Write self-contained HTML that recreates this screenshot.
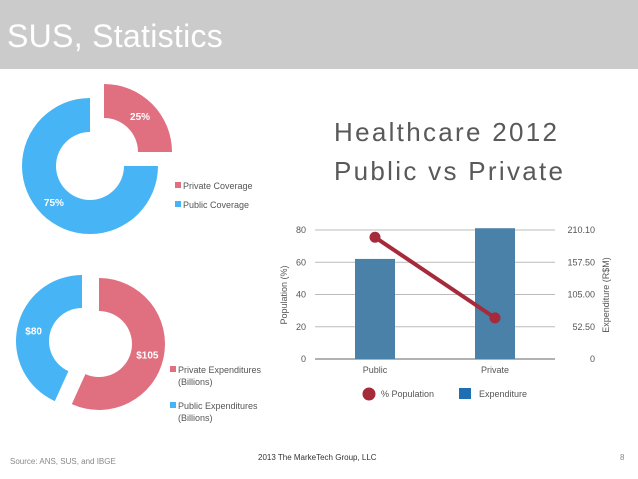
<!DOCTYPE html>
<html><head><meta charset="utf-8"><style>
body{margin:0;width:638px;height:479px;overflow:hidden;background:#fff;font-family:"Liberation Sans",sans-serif}
svg{display:block}
</style></head><body>
<svg id="s" width="638" height="479" xmlns="http://www.w3.org/2000/svg">
<rect x="0" y="0" width="638" height="69" fill="#cbcbcb"/>
<text x="7" y="47" font-size="32" fill="#fff" letter-spacing="0.3">SUS, Statistics</text>
<g id="d1"></g>
<g id="d2"></g>
<g font-size="9" fill="#555">
<rect x="175" y="182" width="6" height="6" fill="#e07080"/>
<text x="183" y="189">Private Coverage</text>
<rect x="175" y="201" width="6" height="6" fill="#46b4f5"/>
<text x="183" y="208">Public Coverage</text>
<rect x="170" y="366" width="6" height="6" fill="#e07080"/>
<text x="178" y="373">Private Expenditures</text>
<text x="178" y="385">(Billions)</text>
<rect x="170" y="402" width="6" height="6" fill="#46b4f5"/>
<text x="178" y="409">Public Expenditures</text>
<text x="178" y="421">(Billions)</text>
</g>
<text x="334" y="141" font-size="26" fill="#595959" letter-spacing="2.3">Healthcare 2012</text>
<text x="334" y="180" font-size="26" fill="#595959" letter-spacing="2.3">Public vs Private</text>
<g id="bc"></g>
<text x="10" y="464" font-size="8" fill="#888">Source: ANS, SUS, and IBGE</text>
<text x="258" y="460" font-size="8" fill="#333">2013   The MarkeTech Group, LLC</text>
<text x="620" y="460" font-size="8" fill="#888">8</text>
</svg>
<script>
const NS="http://www.w3.org/2000/svg";
const covLabels=["Private","Public"];
const covValues=[25,75];
const expLabels=["Private","Public"];
const expValues=[105,80];
const categories=["Public","Private"];
const popValues=[75.5,25.5];
const expBarValues=[163,213];
const leftTicks=[0,20,40,60,80];
const rightTickLabels=["0","52.50","105.00","157.50","210.10"];

function mk(tag,attrs,parent){const e=document.createElementNS(NS,tag);for(const k in attrs)e.setAttribute(k,attrs[k]);parent.appendChild(e);return e;}
function arc(cx,cy,r0,r1,a0,a1){
  const p=(r,a)=>[cx+r*Math.sin(a),cy-r*Math.cos(a)];
  const lg=(a1-a0)>Math.PI?1:0;
  const [x0,y0]=p(r1,a0),[x1,y1]=p(r1,a1),[x2,y2]=p(r0,a1),[x3,y3]=p(r0,a0);
  return `M${x0},${y0}A${r1},${r1} 0 ${lg} 1 ${x1},${y1}L${x2},${y2}A${r0},${r0} 0 ${lg} 0 ${x3},${y3}Z`;
}
function donut(g,values,centers,r0,r1,colors,labelPos){
  const tot=values.reduce((a,b)=>a+b,0);let a=0;
  values.forEach((v,i)=>{
    const a1=a+v/tot*2*Math.PI;const c=centers[i];
    const p=mk('path',{d:arc(c[0],c[1],r0,r1,a,a1),fill:colors[i]},g);
    
    
    const mid=(a+a1)/2,rm=(r0+r1)/2;
    const t=mk('text',{x:c[0]+rm*Math.sin(mid),y:c[1]-rm*Math.cos(mid)+4,'text-anchor':'middle','font-size':10,'font-weight':'bold',fill:'#fff'},g);
    t.textContent=labelPos[i];
    
    
    a=a1;
  });
}
donut(document.getElementById('d1'),covValues,[[104,152],[90,166]],34,68,['#e07080','#46b4f5'],covValues.map(v=>v+'%'));
donut(document.getElementById('d2'),expValues,[[99,344],[82,341]],33,66,['#e07080','#46b4f5'],expValues.map(v=>'$'+v));

const g=document.getElementById('bc');
const X0=315,X1=555,Y0=359,Y1=230;
const yL=v=>Y0-(v/80)*(Y0-Y1);
const yR=v=>Y0-(v/210.1)*(Y0-Y1);
const band=(X1-X0)/categories.length;
const xC=i=>X0+band*(i+0.5);
leftTicks.forEach((t,i)=>{
  const y=yL(t);
  const l=mk('line',{x1:X0,x2:X1,y1:y,y2:y,stroke:i==0?'#666':'#bbb','stroke-width':1},g);
  
  
  const tl=mk('text',{x:306,y:y+3,'text-anchor':'end','font-size':9,fill:'#555'},g);tl.textContent=t;
  
  
  const tr=mk('text',{x:595,y:y+3,'text-anchor':'end','font-size':9,fill:'#555'},g);tr.textContent=rightTickLabels[i];
  
  
});
categories.forEach((c,i)=>{
  const y=yR(expBarValues[i]);
  const b=mk('rect',{x:xC(i)-20,y:y,width:40,height:Y0-y,fill:'#4a81a8'},g);
  
  
  const t=mk('text',{x:xC(i),y:373,'text-anchor':'middle','font-size':9,fill:'#555'},g);t.textContent=c;
  
  
});
const pl=mk('polyline',{points:popValues.map((v,i)=>xC(i)+','+yL(v)).join(' '),fill:'none',stroke:'#a52a3a','stroke-width':4},g);


popValues.forEach((v,i)=>{
  const c=mk('circle',{cx:xC(i),cy:yL(v),r:5.5,fill:'#a52a3a'},g);
  
  
});
const ya=mk('text',{transform:'translate(287,295) rotate(-90)','text-anchor':'middle','font-size':9,fill:'#555'},g);ya.textContent='Population (%)';


const yb=mk('text',{transform:'translate(609,295) rotate(-90)','text-anchor':'middle','font-size':9,fill:'#555'},g);yb.textContent='Expenditure (R$M)';


const lc=mk('circle',{cx:369,cy:394,r:6.5,fill:'#a52a3a'},g);


const lt=mk('text',{x:381,y:397,'font-size':9,fill:'#555'},g);lt.textContent='% Population';


const lr=mk('rect',{x:459,y:388,width:12,height:11,fill:'#1f6fb4'},g);


const lt2=mk('text',{x:479,y:397,'font-size':9,fill:'#555'},g);lt2.textContent='Expenditure';


</script>
</body></html>
